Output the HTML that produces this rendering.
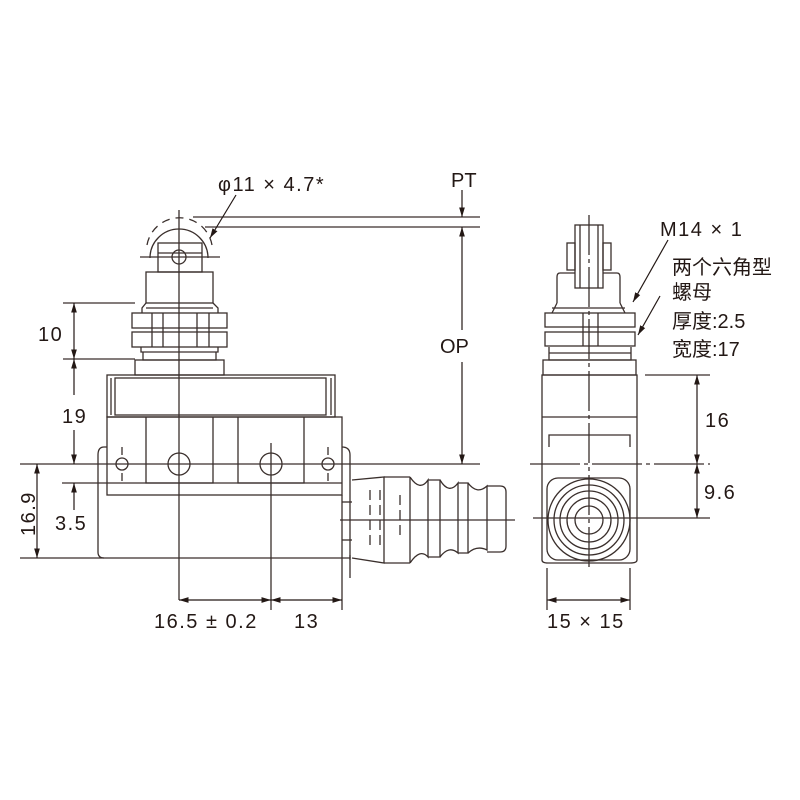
<!DOCTYPE html>
<html><head><meta charset="utf-8"><style>
html,body{margin:0;padding:0;background:#fff;}
svg{display:block}
text{font-family:"Liberation Sans","Noto Sans CJK SC",sans-serif;fill:#231815;}
</style></head><body>
<svg width="800" height="800" viewBox="0 0 800 800" xmlns="http://www.w3.org/2000/svg">
<defs>
<marker id="a" viewBox="0 0 10 10" refX="10" refY="5" markerWidth="8" markerHeight="8" orient="auto-start-reverse"><path d="M0,2 L10,5 L0,8 z" fill="#231815"/></marker>
</defs>
<g stroke="#3a2f2c" stroke-width="1.3" fill="none">
<path d="M150,258 A29,29 0 0 1 208,258"/>
<path d="M147,245 A33,33 0 0 1 212,245" stroke-dasharray="8,6"/>
<rect x="158" y="243" width="44" height="29"/>
<line x1="158" y1="253" x2="202" y2="253"/>
<circle cx="179" cy="257" r="7"/>
<line x1="140" y1="257" x2="220" y2="257"/>
<rect x="146" y="272" width="67" height="31"/>
<path d="M146,303 L142,308 L142,313 M213,303 L218,308 L218,313 M146,308 L213,308"/>
<rect x="132" y="313" width="95" height="15"/>
<rect x="132" y="332" width="95" height="15"/>
<path d="M152,313V347M163,313V347M197,313V347M209,313V347"/>
<path d="M141,347V352H218V347M143,352V360H216V352"/>
<rect x="135" y="360" width="89" height="15"/>
<rect x="107" y="375" width="228" height="42"/>
<rect x="115" y="378" width="211" height="37"/>
<line x1="111" y1="378" x2="111" y2="415"/><line x1="331" y1="378" x2="331" y2="415"/>
<rect x="107" y="417" width="235" height="78"/>
<path d="M146,417V483H213V417M238,417V483H304V417"/>
<line x1="107" y1="483" x2="342" y2="483"/>
<path d="M107,447H104Q98,447 98,455V552Q98,558 104,558H350V560"/>
<path d="M342,447Q350,447 350,455V558"/>
<circle cx="122" cy="464" r="6"/><circle cx="328" cy="464" r="6"/>
<circle cx="179" cy="464" r="11"/><circle cx="271" cy="464" r="11"/>
<path d="M122,447V455M122,473V481M328,447V455M328,473V481M271,443V452"/>
<path d="M352,480L384,477V563L352,558"/>
<line x1="384" y1="477" x2="410" y2="477"/><line x1="384" y1="563" x2="410" y2="563"/>
<path d="M370,490V550M380,490V550M400,495V540" stroke-dasharray="10,5"/>
<path d="M410,477V563M410,477Q420,492 428,480V557Q420,548 410,563"/>
<path d="M428,480H440V557H428"/>
<path d="M440,480Q449,495 458,483V553Q449,545 440,557"/>
<path d="M458,483H468V553H458"/>
<path d="M468,483Q477,495 487,486V550Q477,545 468,553"/>
<path d="M487,486H500Q506,486 506,492V546Q506,552 500,552H487"/>
<line x1="340" y1="520" x2="515" y2="520"/>
<line x1="350" y1="555" x2="350" y2="578"/>
<line x1="342" y1="502" x2="352" y2="502"/><line x1="342" y1="540" x2="352" y2="540"/>
<line x1="179" y1="210" x2="179" y2="600"/>
<line x1="271" y1="452" x2="271" y2="610"/>
<line x1="342" y1="495" x2="342" y2="610"/>
<line x1="20" y1="464" x2="480" y2="464"/>
<line x1="20" y1="558" x2="104" y2="558"/>
<line x1="62" y1="483" x2="107" y2="483"/>
<line x1="63" y1="303" x2="135" y2="303"/>
<line x1="63" y1="359" x2="135" y2="359"/>
<line x1="193" y1="217" x2="480" y2="217"/>
<line x1="205" y1="227" x2="480" y2="227"/>
</g>
<g stroke="#231815" stroke-width="1.2" fill="none">
<line x1="74" y1="303" x2="74" y2="359" marker-start="url(#a)" marker-end="url(#a)"/>
<line x1="74" y1="359" x2="74" y2="395" marker-start="url(#a)"/>
<line x1="74" y1="430" x2="74" y2="464" marker-end="url(#a)"/>
<line x1="74" y1="483" x2="74" y2="510" marker-start="url(#a)"/>
<line x1="37" y1="464" x2="37" y2="558" marker-start="url(#a)" marker-end="url(#a)"/>
<line x1="462" y1="190" x2="462" y2="217" marker-end="url(#a)"/>
<line x1="462" y1="227" x2="462" y2="330" marker-start="url(#a)"/>
<line x1="462" y1="362" x2="462" y2="464" marker-end="url(#a)"/>
<line x1="236" y1="195" x2="210" y2="238" marker-end="url(#a)"/>
<line x1="179" y1="600" x2="271" y2="600" marker-start="url(#a)" marker-end="url(#a)"/>
<line x1="271" y1="600" x2="342" y2="600" marker-start="url(#a)" marker-end="url(#a)"/>
<line x1="697" y1="375" x2="697" y2="464" marker-start="url(#a)" marker-end="url(#a)"/>
<line x1="697" y1="464" x2="697" y2="518" marker-start="url(#a)" marker-end="url(#a)"/>
<line x1="547" y1="600" x2="630" y2="600" marker-start="url(#a)" marker-end="url(#a)"/>
<line x1="668" y1="240" x2="633" y2="302" marker-end="url(#a)"/>
<line x1="660" y1="296" x2="638" y2="335" marker-end="url(#a)"/>
</g>
<g stroke="#3a2f2c" stroke-width="1.3" fill="none">
<rect x="575" y="225" width="28" height="63"/>
<path d="M580,225V288M598,225V288"/>
<rect x="567" y="243" width="8" height="27"/><rect x="603" y="243" width="8" height="27"/>
<path d="M575,273H560Q557,273 557,277V303M603,273H617Q620,273 620,277V303"/>
<path d="M557,303L552,313M620,303L625,313M552,308H625"/>
<rect x="545" y="313" width="90" height="14"/>
<rect x="545" y="332" width="90" height="14"/>
<path d="M583,313V346M598,313V346"/>
<path d="M549,347V360H631V347M549,353H631"/>
<rect x="543" y="360" width="93" height="15"/>
<path d="M542,375H637V560Q637,563 630,563H548Q542,563 542,560Z"/>
<line x1="542" y1="417" x2="637" y2="417"/>
<path d="M549,447V435H630V447"/>
<rect x="547" y="478" width="83" height="82" rx="11"/>
<circle cx="589" cy="520" r="41"/><circle cx="589" cy="520" r="35"/>
<circle cx="589" cy="520" r="29"/><circle cx="589" cy="520" r="22"/><circle cx="589" cy="520" r="14"/>
<line x1="589" y1="215" x2="589" y2="570" stroke-dasharray="40,4,4,4"/>
<line x1="530" y1="464" x2="710" y2="464" stroke-dasharray="50,4,4,4"/>
<line x1="533" y1="518" x2="710" y2="518"/>
<line x1="645" y1="375" x2="710" y2="375"/>
<line x1="547" y1="568" x2="547" y2="610"/><line x1="630" y1="568" x2="630" y2="610"/>
</g>
<g font-size="20" letter-spacing="1.5">
<text x="218" y="191">φ11 × 4.7*</text>
<text x="451" y="187" letter-spacing="0">PT</text>
<text x="440" y="353" letter-spacing="0">OP</text>
<text x="38" y="341">10</text>
<text x="62" y="423">19</text>
<text x="55" y="530">3.5</text>
<text transform="translate(35,536) rotate(-90)">16.9</text>
<text x="154" y="628">16.5 ± 0.2</text>
<text x="294" y="628">13</text>
<text x="660" y="236">M14 × 1</text>
<text x="705" y="427">16</text>
<text x="704" y="499">9.6</text>
<text x="547" y="628">15 × 15</text>
</g>
<g font-size="20">
<text x="672" y="274">两个六角型</text>
<text x="672" y="299">螺母</text>
<text x="672" y="328">厚度:2.5</text>
<text x="672" y="356">宽度:17</text>
</g>
</svg>
</body></html>
